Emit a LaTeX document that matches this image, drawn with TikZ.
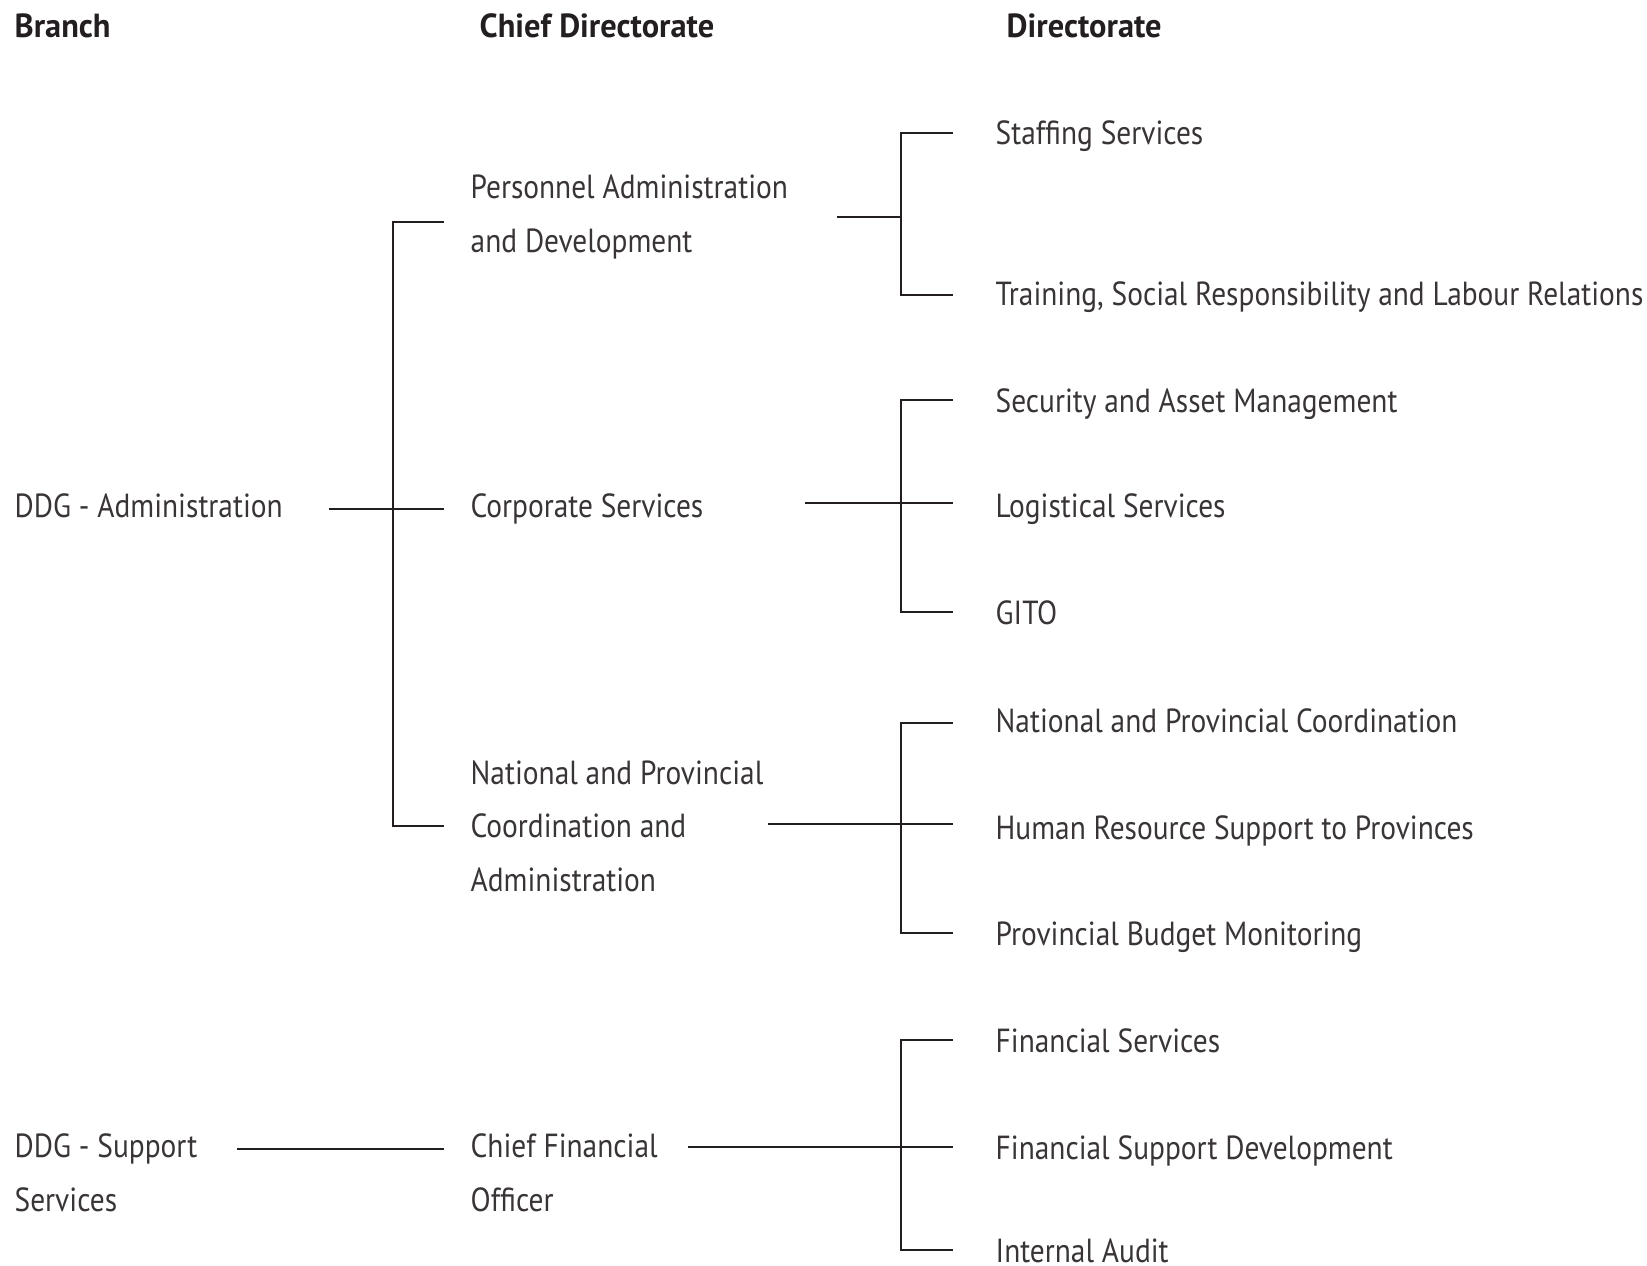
\documentclass[tikz,border=0pt]{standalone}
\usepackage{fontspec}
\setmainfont{PT Sans}[FakeStretch=0.88]
\newfontfamily\headfont{PT Sans}[FakeStretch=0.97]
\usetikzlibrary{positioning}
\definecolor{ink}{HTML}{231F20}
\tikzset{
    head/.style={font=\headfont\bfseries\fontsize{9.5}{11}\selectfont, text=ink, anchor=base west, inner sep=0pt},
    unit/.style={font=\fontsize{9.5}{15.2}\selectfont, text=ink!90, anchor=base west, inner sep=0pt, align=left},
    link/.style={line width=0.7pt, color=ink},
}
\begin{document}
\begin{tikzpicture}[x=0.01cm, y=-0.01cm]
\useasboundingbox (0,0) rectangle (1647,1265);
% column heads
\node[head] (hbranch) at (14,37) {Branch};
\node[head] (hchief) at (479,37) {Chief Directorate};
\node[head] (hdir) at (1006,37) {Directorate};

% branches (base = last line)
\node[unit] (ddgadmin) at (14,517) {DDG - Administration};
\node[unit] (ddgsupport) at (14,1211) {DDG - Support\\Services};

% chief directorates
\node[unit] (pad) at (470,252) {Personnel Administration\\and Development};
\node[unit] (cs) at (470,517) {Corporate Services};
\node[unit] (npc) at (470,891) {National and Provincial\\Coordination and\\Administration};
\node[unit] (cfo) at (470,1211) {Chief Financial\\Officer};

% directorates
\node[unit] (staff) at (995,144) {Staffing Services};
\node[unit] (train) at (995,305) {Training, Social Responsibility and Labour Relations};
\node[unit] (secu) at (995,412) {Security and Asset Management};
\node[unit] (logi) at (995,517) {Logistical Services};
\node[unit] (gito) at (995,624) {GITO};
\node[unit] (npcoord) at (995,732) {National and Provincial Coordination};
\node[unit] (hrsup) at (995,839) {Human Resource Support to Provinces};
\node[unit] (budget) at (995,945) {Provincial Budget Monitoring};
\node[unit] (finserv) at (995,1052) {Financial Services};
\node[unit] (finsup) at (995,1159) {Financial Support Development};
\node[unit] (audit) at (995,1262) {Internal Audit};

% branch -> chief directorate
\coordinate (a0) at (329,509);
\coordinate (a1) at (393,222);
\coordinate (a2) at (393,826);
\draw[link] ([xshift=-0.26cm]pad.west |- a1) -| (a2) -- ([xshift=-0.26cm]npc.west |- a2);
\draw[link] (a0) -- ([xshift=-0.26cm]cs.west |- a0);
\coordinate (b0) at (237,1149);
\draw[link] (b0) -- ([xshift=-0.26cm]cfo.west |- b0);

% chief directorate -> directorate
\coordinate (p0) at (837,217);
\coordinate (p1) at (901,133);
\coordinate (p2) at (901,295);
\draw[link] ([xshift=-0.42cm]staff.west |- p1) -| (p2) -- ([xshift=-0.42cm]train.west |- p2);
\draw[link] (p0) -- (p0 -| p1);

\coordinate (c0) at (805,503);
\coordinate (c1) at (901,400);
\coordinate (c2) at (901,612);
\draw[link] ([xshift=-0.42cm]secu.west |- c1) -| (c2) -- ([xshift=-0.42cm]gito.west |- c2);
\draw[link] (c0) -- ([xshift=-0.42cm]logi.west |- c0);

\coordinate (n0) at (768,824);
\coordinate (n1) at (901,723);
\coordinate (n2) at (901,933);
\draw[link] ([xshift=-0.42cm]npcoord.west |- n1) -| (n2) -- ([xshift=-0.42cm]budget.west |- n2);
\draw[link] (n0) -- ([xshift=-0.42cm]hrsup.west |- n0);

\coordinate (f0) at (688,1147);
\coordinate (f1) at (901,1040);
\coordinate (f2) at (901,1250);
\draw[link] ([xshift=-0.42cm]finserv.west |- f1) -| (f2) -- ([xshift=-0.42cm]audit.west |- f2);
\draw[link] (f0) -- ([xshift=-0.42cm]finsup.west |- f0);
\end{tikzpicture}
\end{document}
